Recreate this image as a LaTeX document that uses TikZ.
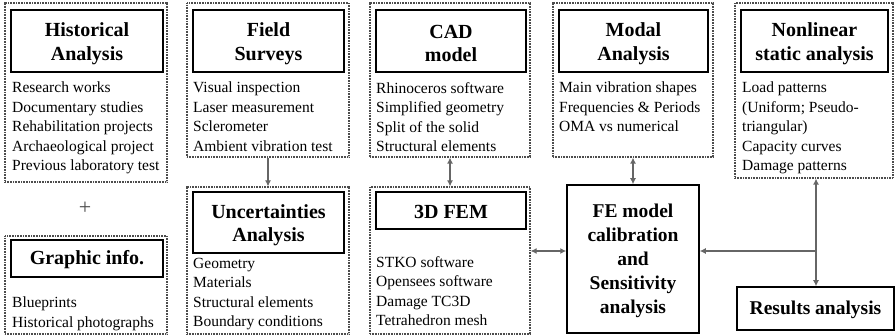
\documentclass[tikz,border=0pt]{standalone}
\usepackage{fontspec}
\setmainfont{Liberation Serif}
\usetikzlibrary{arrows.meta}
\tikzset{
  outer/.style={draw=black!70, dash pattern=on 0.8pt off 0.8pt, line width=1.2pt, inner sep=0pt},
  tbox/.style={draw=black, line width=1.3pt, inner sep=0pt},
  ttext/.style={inner sep=0pt, align=center, yshift=-2.5pt,
    font=\bfseries\fontsize{20}{23.5}\selectfont},
  mainbox/.style={draw=black, line width=1.5pt, inner sep=0pt},
  mtext/.style={inner sep=0pt, align=center, yshift=-2pt,
    font=\bfseries\fontsize{19.5}{24}\selectfont},
  body/.style={anchor=north west, inner sep=0pt, align=left,
    font=\fontsize{15.5}{19.5}\selectfont},
  link/.style={draw=black!60, line width=1.4pt},
  tip/.style={-{Latex[length=6pt,width=6pt]}},
  twotip/.style={{Latex[length=6pt,width=6pt]}-{Latex[length=6pt,width=6pt]}},
}
\newcommand{\boxat}[6]{% style, name, x1, y1, x2, y2
  \node[#1, minimum width={(#5)-(#3)}, minimum height={(#6)-(#4)}] (#2)
    at ({((#3)+(#5))/2}, {((#4)+(#6))/2}) {};}
\begin{document}
\begin{tikzpicture}[x=1pt, y=-1pt]
\useasboundingbox[fill=white] (0,0) rectangle (896,336);

% outer dotted frames
\boxat{outer}{hist}{5}{3}{167}{182}
\boxat{outer}{graph}{5}{236}{167}{334}
\boxat{outer}{field}{187}{3}{349}{157}
\boxat{outer}{unc}{187}{187}{349}{334}
\boxat{outer}{cad}{370}{3}{530}{157}
\boxat{outer}{fem}{370}{187}{530}{334}
\boxat{outer}{modal}{553}{3}{713}{157}
\boxat{outer}{nonlin}{735}{3}{893}{178}

% title frames and their headings
\boxat{tbox}{histT}{11}{10}{163}{72}
\boxat{tbox}{graphT}{11}{240}{163}{277}
\boxat{tbox}{fieldT}{193}{10}{344}{72}
\boxat{tbox}{uncT}{193}{192}{344}{253}
\boxat{tbox}{cadT}{376}{10}{526}{72}
\boxat{tbox}{femT}{376}{192}{526}{229}
\boxat{tbox}{modalT}{559}{10}{708}{72}
\boxat{tbox}{nonlinT}{741}{10}{888}{72}
\node[ttext] (histH) at (histT.center) {Historical\\Analysis};
\node[ttext, yshift=1.5pt] (graphH) at (graphT.center) {Graphic info.};
\node[ttext] (fieldH) at (fieldT.center) {Field\\Surveys};
\node[ttext] (uncH) at (uncT.center) {Uncertainties\\Analysis};
\node[ttext] (cadH) at (cadT.center) {CAD\\model};
\node[ttext, yshift=1.5pt] (femH) at (femT.center) {3D FEM};
\node[ttext] (modalH) at (modalT.center) {Modal\\Analysis};
\node[ttext] (nonlinH) at (nonlinT.center) {Nonlinear\\static analysis};

% main boxes
\boxat{mainbox}{fe}{567}{185}{699}{333}
\boxat{mainbox}{res}{737}{287}{894}{330}
\node[mtext] (feH) at (fe.center) {FE model\\calibration\\and\\Sensitivity\\analysis};
\node[mtext, yshift=1pt] (resH) at (res.center) {Results analysis};

% item lists
\node[body] (histL) at (12,82) {Research works\\Documentary studies\\Rehabilitation projects\\Archaeological project\\Previous laboratory test};
\node[body] (graphL) at (12,297) {Blueprints\\Historical photographs};
\node[body] (fieldL) at (193,82) {Visual inspection\\Laser measurement\\Sclerometer\\Ambient vibration test};
\node[body] (uncL) at (193,258) {Geometry\\Materials\\Structural elements\\Boundary conditions};
\node[body] (cadL) at (376,82) {Rhinoceros software\\Simplified geometry\\Split of the solid\\Structural elements};
\node[body] (femL) at (376,256) {STKO software\\Opensees software\\Damage TC3D\\Tetrahedron mesh};
\node[body] (modalL) at (559,82) {Main vibration shapes\\Frequencies \& Periods\\OMA vs numerical};
\node[body] (nonlinL) at (742,82) {Load patterns\\(Uniform; Pseudo-\\triangular)\\Capacity curves\\Damage patterns};

\node[font=\fontsize{22}{22}\selectfont, text=black!70] (plus) at (85,208) {+};

% connectors
\coordinate (j) at (816,251);
\draw[link, tip] (field.south) -- (unc.north);
\draw[link, twotip] (cad.south) -- (fem.north);
\draw[link, twotip] (modal.south) -- (fe.north);
\draw[link, twotip] (fem.east |- j) -- (fe.west |- j);
\draw[link, twotip] (nonlin.south -| j) -- (res.north -| j);
\draw[link, tip] (j) -- (fe.east |- j);
\end{tikzpicture}
\end{document}
